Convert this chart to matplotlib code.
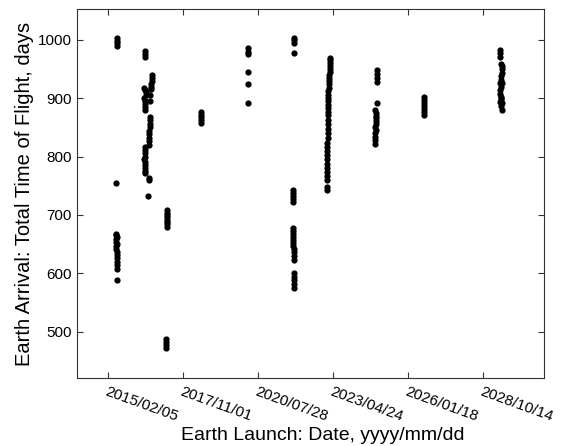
import numpy as np
import matplotlib
matplotlib.use("Agg")
import matplotlib.pyplot as plt
import matplotlib.dates as mdates

plt.rcParams['font.family'] = ['Liberation Sans', 'DejaVu Sans']

# launch windows: (launch dates, total time of flight in days)
w1_launch = ['2015-06-08'] * 4 + ['2015-06-01'] + \
    ['2015-05-28', '2015-06-02', '2015-06-05', '2015-05-30', '2015-06-03', '2015-06-06',
     '2015-06-01', '2015-06-04', '2015-06-07', '2015-06-09', '2015-06-05', '2015-06-10',
     '2015-06-08', '2015-06-12'] + ['2015-06-08']
w1_tof = [1003, 998, 994, 990, 755,
          668, 665, 662, 658, 654, 650, 646, 642, 637, 632, 626, 620, 614, 608, 589]

w2_launch = ['2016-06-13', '2016-06-14', '2016-06-15',
             '2016-09-22', '2016-09-18', '2016-09-14', '2016-09-10', '2016-09-06',
             '2016-06-10', '2016-06-18', '2016-06-25', '2016-07-02', '2016-08-30', '2016-08-26',
             '2016-06-08', '2016-06-12', '2016-06-16', '2016-06-20', '2016-08-20', '2016-06-22',
             '2016-08-24', '2016-08-22', '2016-08-20', '2016-08-18', '2016-08-16', '2016-08-14',
             '2016-08-12', '2016-08-10', '2016-08-12',
             '2016-06-12', '2016-06-13', '2016-06-14', '2016-06-12', '2016-06-10', '2016-06-11',
             '2016-06-13', '2016-06-12', '2016-06-14', '2016-06-13',
             '2016-08-10', '2016-08-14', '2016-08-02']
w2_tof = [981, 976, 971,
          940, 935, 930, 925, 920,
          918, 914, 910, 906, 915, 905,
          900, 895, 890, 885, 895, 880,
          868, 862, 856, 850, 844, 838, 832, 826, 820,
          816, 811, 806, 800, 795, 790, 785, 780, 776, 771,
          763, 759, 732]

w3_launch = ['2017-04-02'] * 8 + ['2017-03-30'] * 4
w3_tof = [708, 704, 700, 696, 692, 688, 684, 679, 488, 482, 477, 471]

w4_launch = ['2018-06-29'] * 5
w4_tof = [876, 872, 867, 862, 857]

w5_launch = ['2020-03-18'] * 6
w5_tof = [986, 980, 975, 945, 924, 892]

w6_launch = ['2021-11-20', '2021-11-24', '2021-11-22', '2021-11-24',
             '2021-11-05', '2021-11-07', '2021-11-05', '2021-11-06', '2021-11-08',
             '2021-11-02', '2021-11-04', '2021-11-06', '2021-11-08', '2021-11-10', '2021-11-12',
             '2021-11-14', '2021-11-16', '2021-11-18', '2021-11-20', '2021-11-20',
             '2021-11-16', '2021-11-18', '2021-11-20', '2021-11-22', '2021-11-20']
w6_tof = [1003, 999, 995, 977,
          742, 737, 732, 727, 722,
          677, 672, 667, 662, 657, 652, 647, 642, 636, 629, 622,
          600, 594, 588, 581, 574]

w7_launch = ['2023-03-20', '2023-03-18', '2023-03-16', '2023-03-14', '2023-03-12', '2023-03-10',
             '2023-03-06', '2023-03-04', '2023-03-02', '2023-02-28', '2023-02-26', '2023-02-24',
             '2023-02-22', '2023-02-20', '2023-02-18', '2023-02-24', '2023-02-20', '2023-02-16',
             '2023-02-18', '2023-02-20', '2023-02-18', '2023-02-17', '2023-02-19', '2023-02-18',
             '2023-02-04', '2023-02-06', '2023-02-02', '2023-02-04', '2023-02-05', '2023-02-03',
             '2023-02-04', '2023-02-02', '2023-02-10', '2023-02-10', '2023-02-08', '2023-02-08']
w7_tof = [969, 965, 960, 955, 950, 945,
          940, 935, 930, 925, 918, 912,
          906, 900, 895, 889, 883, 877,
          871, 862, 855, 848, 840, 832,
          823, 816, 809, 802, 795, 788,
          781, 773, 766, 760, 748, 742]

w8_launch = ['2024-11-25'] * 4 + ['2024-11-25'] + \
    ['2024-11-10', '2024-11-20', '2024-11-14', '2024-11-18', '2024-11-12', '2024-11-16',
     '2024-11-10', '2024-11-14', '2024-11-08', '2024-11-10', '2024-11-06', '2024-11-04']
w8_tof = [948, 941, 934, 928, 892,
          880, 875, 870, 866, 861, 856, 851, 846, 840, 834, 828, 821]

w9_launch = ['2026-08-21'] * 7
w9_tof = [902, 897, 892, 887, 882, 876, 871]

w10_launch = ['2029-05-20', '2029-05-21', '2029-05-20',
              '2029-06-05', '2029-06-20', '2029-06-25', '2029-06-15', '2029-06-08',
              '2029-06-02', '2029-05-28', '2029-06-05', '2029-06-15', '2029-05-30',
              '2029-05-25', '2029-06-08', '2029-06-12', '2029-06-16', '2029-06-10',
              '2029-05-30', '2029-06-14', '2029-06-18']
w10_tof = [983, 977, 970,
           958, 955, 950, 944, 938,
           932, 926, 920, 926, 914,
           908, 902, 897, 892, 900,
           894, 886, 879]

tick_dates = ['2015-02-05', '2017-11-01', '2020-07-28', '2023-04-24', '2026-01-18', '2028-10-14']
yticks = [500, 600, 700, 800, 900, 1000]

launch = np.array(w1_launch + w2_launch + w3_launch + w4_launch + w5_launch + w6_launch
                  + w7_launch + w8_launch + w9_launch + w10_launch, dtype='datetime64[D]')
tof = np.array(w1_tof + w2_tof + w3_tof + w4_tof + w5_tof + w6_tof
               + w7_tof + w8_tof + w9_tof + w10_tof)

fig = plt.figure(figsize=(5.69, 4.46), dpi=100)
ax = fig.add_axes([0.135, 0.152, 0.821, 0.828])

ax.plot(launch, tof, 'o', color='black', markersize=4.5, markeredgewidth=0)

ax.set_xlim(np.datetime64('2013-12-23'), np.datetime64('2031-01-01'))
ax.set_ylim(420, 1053)
ax.set_xticks(np.array(tick_dates, dtype='datetime64[D]'))
ax.xaxis.set_major_formatter(mdates.DateFormatter('%Y/%m/%d'))
ax.set_yticks(yticks)

ax.tick_params(direction='in', top=True, right=True, length=4, width=0.8,
               labelsize=11, color='#333333')
ax.tick_params(axis='x', pad=5)
for lbl in ax.get_xticklabels():
    lbl.set_rotation(-20)
    lbl.set_ha('left')
    lbl.set_rotation_mode('anchor')
for s in ax.spines.values():
    s.set_color('#333333')
    s.set_linewidth(0.8)

ax.set_xlabel('Earth Launch: Date, yyyy/mm/dd', fontsize=14)
ax.xaxis.set_label_coords(0.527, -0.133)
ax.set_ylabel('Earth Arrival: Total Time of Flight, days', fontsize=14.5, labelpad=3)

fig.savefig('out.png', dpi=100)
